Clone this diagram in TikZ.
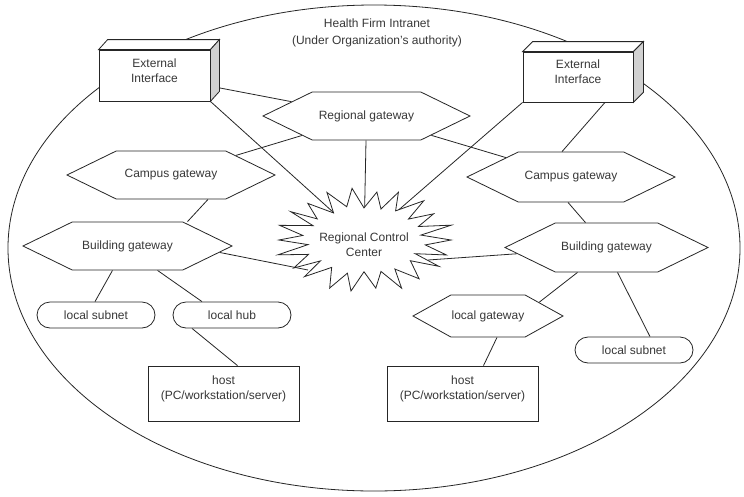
\documentclass[tikz,border=0pt]{standalone}
\usepackage{fontspec}
\setmainfont{Liberation Sans}
\usetikzlibrary{shapes.symbols,shapes.geometric,calc,backgrounds}
\begin{document}
\begin{tikzpicture}[x=1pt,y=-1pt,
  ink/.style={draw=black!85, line width=0.8pt},
  txt/.style={text=black!78, font=\fontsize{12}{15}\selectfont, align=center},
  hexa/.style={signal, signal to=east and west, signal pointer angle=52,
    ink, fill=white, txt, inner sep=0pt, minimum height=48},
  box3d/.style={rectangle, ink, fill=white, inner sep=0pt},
  sideface/.style={ink, fill=black!18},
  topface/.style={ink, fill=white},
  pill/.style={rectangle, rounded corners=13, ink, fill=white, txt,
    minimum width=118, minimum height=26, inner sep=0pt},
  hostbox/.style={rectangle, ink, fill=white, inner sep=0pt,
    minimum width=151, minimum height=55},
  wire/.style={ink}
]
\useasboundingbox (0,0) rectangle (744,496);

% title of the domain
\node[txt] (title) at (377,33) {Health Firm Intranet\\[2pt](Under Organization's authority)};

% external interfaces (boxes drawn in perspective)
\node[box3d, minimum width=111, minimum height=51,
  label={[txt,yshift=5]center:{External\\Interface}}] (extl) at (154.5,75.5) {};
\draw[topface] (extl.north west) -- ($(extl.north west)+(9,-10)$)
  -- ($(extl.north east)+(9,-10)$) -- (extl.north east) -- cycle;
\draw[sideface] (extl.north east) -- ($(extl.north east)+(9,-10)$)
  -- ($(extl.south east)+(9,-10)$) -- (extl.south east) -- cycle;

\node[box3d, minimum width=110, minimum height=50,
  label={[txt,yshift=5]center:{External\\Interface}}] (extr) at (578,77) {};
\draw[topface] (extr.north west) -- ($(extr.north west)+(10,-10)$)
  -- ($(extr.north east)+(10,-10)$) -- (extr.north east) -- cycle;
\draw[sideface] (extr.north east) -- ($(extr.north east)+(10,-10)$)
  -- ($(extr.south east)+(10,-10)$) -- (extr.south east) -- cycle;

% gateways
\node[hexa, minimum width=207] (rg) at (366.5,116) {Regional gateway};
\node[hexa, minimum width=208] (cgl) at (171,175) {Campus gateway};
\node[hexa, minimum width=208, minimum height=50] (cgr) at (571,177) {Campus gateway};
\node[hexa, minimum width=209] (bgl) at (127.5,246) {Building gateway};
\node[hexa, minimum width=203, minimum height=49] (bgr) at (606.5,247.5) {Building gateway};
\node[hexa, minimum width=150, minimum height=42, signal pointer angle=58] (lg) at (488,316) {local gateway};

% regional control center: a jagged burst around its label
\draw[ink, fill=white, shift={(364,240)}]
  plot[samples at={0,...,43}]
  ({(87-28*mod(\x,2))*(1+0.05*sin(\x*97))*cos(\x*8.1818)},
   {(51-18*mod(\x,2))*(1+0.05*sin(\x*61))*sin(\x*8.1818)}) -- cycle;
\node[ellipse, minimum width=110, minimum height=58, inner sep=0pt,
  label={[txt,yshift=-5]center:{Regional Control\\Center}}] (rcc) at (364,240) {};

% local segments
\node[pill] (lsl) at (96,315) {local subnet};
\node[pill] (lhub) at (232,315) {local hub};
\node[pill] (lsr) at (634,350) {local subnet};

% hosts
\node[hostbox, label={[txt,yshift=5]center:{host\\(PC/workstation/server)}}] (hostl) at (223.5,393.5) {};
\node[hostbox, label={[txt,yshift=5]center:{host\\(PC/workstation/server)}}] (hostr) at (462.5,393.5) {};

\begin{pgfonlayer}{background}
  \fill[white] (0,0) rectangle (744,496);
  \draw[ink] (374,248) ellipse [x radius=366, y radius=243];
  \draw[wire] (extl) -- (rg);
  \draw[wire] (extl.south east) -- (rcc);
  \draw[wire] (rg) -- (rcc);
  \draw[wire] (rg) -- (cgl);
  \draw[wire] (rg) -- (cgr);
  \draw[wire] (extr.south west) -- (rcc);
  \draw[wire] ([xshift=27]extr.south) -- ([xshift=-9]cgr.north);
  \draw[wire] ([xshift=37]cgl.south) -- ([xshift=60]bgl.north);
  \draw[wire] ([xshift=-3]cgr.south) -- ([xshift=-21]bgr.north);
  \draw[wire] (bgl.-4) -- ([xshift=-56,yshift=-30]rcc.center);
  \draw[wire] (bgr.184) -- ([xshift=64,yshift=-20]rcc.center);
  \draw[wire] ([xshift=-15]bgl.south) -- ([xshift=-1]lsl.north);
  \draw[wire] ([xshift=30]bgl.south) -- ([xshift=-30]lhub.north);
  \draw[wire] ([xshift=-40]lhub.south) -- ([xshift=14]hostl.north);
  \draw[wire] ([xshift=-29]bgr.south) -- (lg.15);
  \draw[wire] ([xshift=11]bgr.south) -- ([xshift=16]lsr.north);
  \draw[wire] ([xshift=9]lg.south) -- ([xshift=21]hostr.north);
\end{pgfonlayer}
\end{tikzpicture}
\end{document}
